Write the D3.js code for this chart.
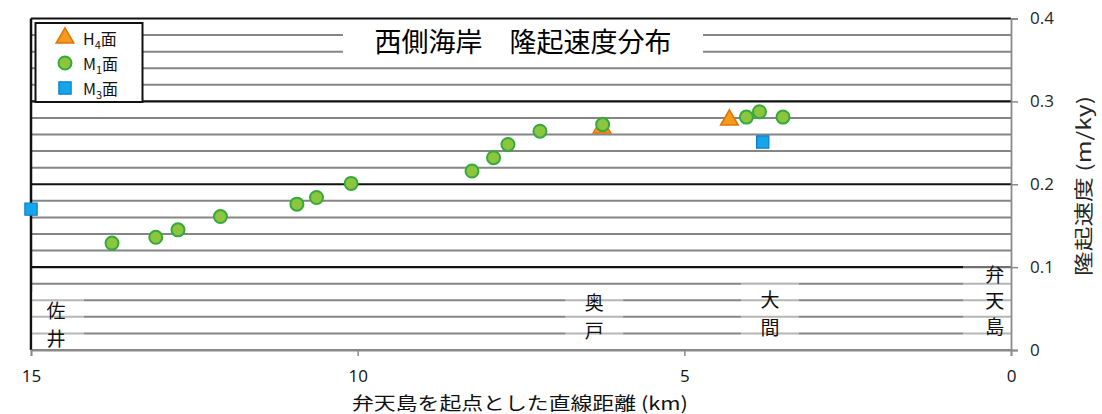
<!DOCTYPE html>
<html>
<head>
<meta charset="utf-8">
<script src="https://cdn.jsdelivr.net/npm/d3@7"></script>
<style>
  body { margin: 0; background: #fff; }
  text { font-family: "Noto Sans CJK JP", "Noto Sans", sans-serif; }
</style>
</head>
<body>
<div id="chart"></div>
<script>
// data (distance from 弁天島 in km, uplift rate in m/ky)
var h4Dist = [6.26, 4.31];
var h4Rate = [0.268, 0.2775];
var m1Dist = [13.76, 13.09, 12.75, 12.10, 10.93, 10.63, 10.10, 8.25, 7.92, 7.70, 7.21, 6.25, 4.05, 3.85, 3.49];
var m1Rate = [0.129, 0.136, 0.145, 0.161, 0.176, 0.184, 0.201, 0.216, 0.232, 0.248, 0.264, 0.272, 0.281, 0.2875, 0.281];
var m3Dist = [15.0, 3.80];
var m3Rate = [0.170, 0.251];
var xTicks = [15, 10, 5, 0];
var yTicks = [0, 0.1, 0.2, 0.3, 0.4];
var placeNames = ["佐井", "奥戸", "大間", "弁天島"];
var placeKm = [14.63, 6.38, 3.69, 0.25];

var svgWidth = 1102, svgHeight = 414;
var margin = {top: 18.5, right: 91, bottom: 64, left: 31};
var width = svgWidth - margin.left - margin.right;
var height = svgHeight - margin.top - margin.bottom;

var svg = d3.select("#chart").append("svg")
  .attr("width", svgWidth)
  .attr("height", svgHeight);

var g = svg.append("g")
  .attr("transform", `translate(${margin.left}, ${margin.top})`);

var x = d3.scaleLinear().domain([15, 0]).range([0, width]);
var y = d3.scaleLinear().domain([0, 0.4]).range([height, 0]);

// gridlines: minor every 0.02, major every 0.1
var gridVals = d3.range(0, 21).map(function(i) { return i * 0.02; });
g.selectAll(".grid").data(gridVals).enter().append("line")
  .attr("x1", 0).attr("x2", width)
  .attr("y1", function(d) { return y(d); })
  .attr("y2", function(d) { return y(d); })
  .attr("stroke", function(d, i) { return (i % 5 == 0 && i > 0) ? "#111" : "#858585"; })
  .attr("stroke-width", function(d, i) { return (i % 5 == 0 && i > 0) ? 2.2 : 2; });

// left frame
g.append("line").attr("x1", 0).attr("x2", 0).attr("y1", 0).attr("y2", height)
  .attr("stroke", "#111").attr("stroke-width", 2.5);

// place labels (vertical text with light boxes)
var placeTop = [292, 287, 283, 266];
placeNames.forEach(function(name, i) {
  var chars = name.split("");
  var cx = x(placeKm[i]);
  var top = placeTop[i] - margin.top;
  var boxH = height - top;
  var boxW = i == 3 ? 48 : (i == 0 ? 52 : 58);
  var bx = i == 0 ? 1 : (i == 3 ? width - boxW : cx - boxW / 2);
  g.append("rect").attr("x", bx).attr("y", top).attr("width", boxW).attr("height", boxH - 1)
    .attr("fill", "#fff").attr("opacity", 0.4);
  var lineH = i == 3 ? 26 : 28;
  var startY = i == 3 ? 282 : (i == 0 ? 318 : (i == 1 ? 310 : 307));
  chars.forEach(function(c, j) {
    g.append("text")
      .attr("x", i == 0 ? 25 : cx)
      .attr("y", startY - margin.top + j * lineH)
      .attr("text-anchor", "middle")
      .attr("font-size", 19)
      .attr("fill", "#111")
      .text(c);
  });
});

// title
g.append("rect").attr("x", 343 - margin.left).attr("y", 25 - margin.top)
  .attr("width", 360).attr("height", 31).attr("fill", "#fff");
g.append("text").attr("x", 523 - margin.left).attr("y", 52 - margin.top)
  .attr("text-anchor", "middle").attr("font-size", 27).attr("fill", "#000")
  .text("西側海岸\u3000隆起速度分布");

// axes
var yAxis = d3.axisRight(y).tickValues(yTicks).tickSize(7).tickPadding(12)
  .tickFormat(function(d) { return d == 0 ? "0" : d3.format(".1f")(d); });
var yG = g.append("g").attr("transform", `translate(${width},0)`).call(yAxis);
yG.select(".domain").attr("stroke", "#8a8a8a").attr("stroke-width", 1.8);
yG.selectAll(".tick line").attr("stroke", "#8a8a8a").attr("stroke-width", 1.5);
yG.selectAll(".tick text").attr("font-size", 17).attr("fill", "#262626")
  .style("font-family", "'Open Sans', sans-serif");

var xAxis = d3.axisBottom(x).tickValues(xTicks).tickSize(6).tickPadding(14);
var xG = g.append("g").attr("transform", `translate(0,${height})`).call(xAxis);
xG.select(".domain").attr("stroke", "#8a8a8a").attr("stroke-width", 1.8);
xG.selectAll(".tick line").attr("stroke", "#8a8a8a").attr("stroke-width", 1.5);
xG.selectAll(".tick text").attr("font-size", 17).attr("fill", "#111")
  .style("font-family", "'Open Sans', sans-serif");

// axis titles
svg.append("text").attr("x", 520).attr("y", 410).attr("text-anchor", "middle")
  .attr("font-size", 18).attr("fill", "#111")
  .attr("textLength", 336).attr("lengthAdjust", "spacingAndGlyphs")
  .text("弁天島を起点とした直線距離 (km)");
svg.append("text")
  .attr("transform", "translate(1091,186) rotate(-90)")
  .attr("text-anchor", "middle").attr("font-size", 19).attr("fill", "#262626")
  .attr("textLength", 180).attr("lengthAdjust", "spacingAndGlyphs")
  .text("隆起速度 (m/ky)");

// markers
var triangle = d3.symbol().type(d3.symbolTriangle).size(135);
var square = d3.symbol().type(d3.symbolSquare).size(150);

g.selectAll(".h4").data(h4Dist).enter().append("path")
  .attr("d", triangle)
  .attr("transform", function(d, i) { return `translate(${x(d)},${y(h4Rate[i])})`; })
  .attr("fill", "#f59a1b").attr("stroke", "#e0730a").attr("stroke-width", 1.5);

g.selectAll(".m1").data(m1Dist).enter().append("circle")
  .attr("cx", function(d) { return x(d); })
  .attr("cy", function(d, i) { return y(m1Rate[i]); })
  .attr("r", 6.5)
  .attr("fill", "#8cc63f").attr("stroke", "#35a93c").attr("stroke-width", 2);

g.selectAll(".m3").data(m3Dist).enter().append("path")
  .attr("d", square)
  .attr("transform", function(d, i) { return `translate(${x(d)},${y(m3Rate[i])})`; })
  .attr("fill", "#14a5ea").attr("stroke", "#0b7dc8").attr("stroke-width", 1.2);

// legend
var leg = svg.append("g");
leg.append("rect").attr("x", 35.5).attr("y", 23).attr("width", 107).attr("height", 79)
  .attr("fill", "#fff").attr("stroke", "#111").attr("stroke-width", 2);
var legNames = [["H", "4"], ["M", "1"], ["M", "3"]];
legNames.forEach(function(n, i) {
  var ly = 39 + i * 25;
  var t = leg.append("text").attr("x", 83).attr("y", ly + 6).attr("font-size", 16).attr("fill", "#111");
  t.append("tspan").text(n[0]);
  t.append("tspan").attr("font-size", 11).attr("dy", 4).text(n[1]);
  t.append("tspan").attr("dy", -4).text("面");
});
leg.append("path").attr("d", triangle).attr("transform", "translate(65,38)")
  .attr("fill", "#f59a1b").attr("stroke", "#e0730a").attr("stroke-width", 1.5);
leg.append("circle").attr("cx", 65).attr("cy", 63).attr("r", 6.5)
  .attr("fill", "#8cc63f").attr("stroke", "#35a93c").attr("stroke-width", 2);
leg.append("path").attr("d", square).attr("transform", "translate(65,88)")
  .attr("fill", "#14a5ea").attr("stroke", "#0b7dc8").attr("stroke-width", 1.2);
</script>
</body>
</html>
